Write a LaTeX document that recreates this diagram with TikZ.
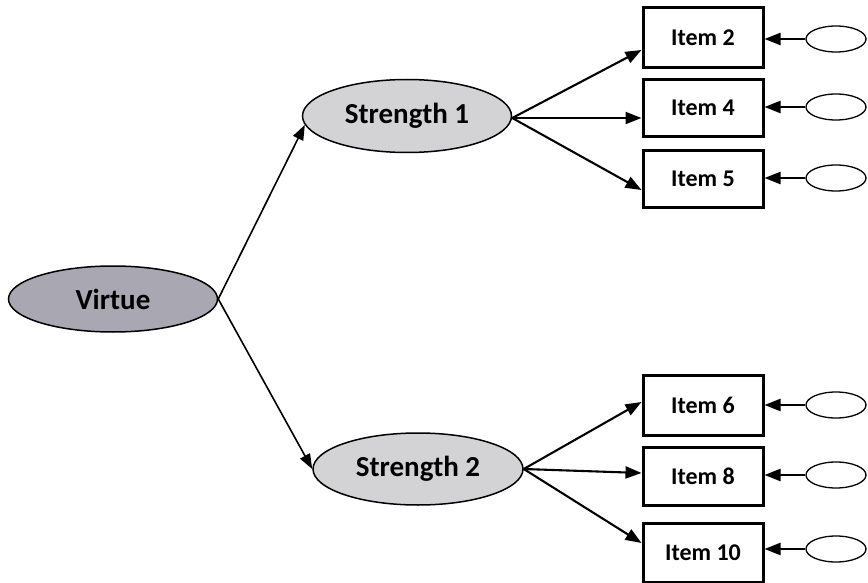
\documentclass[tikz,border=0pt]{standalone}
\usepackage{fontspec}
\setmainfont{Carlito}
\usetikzlibrary{arrows.meta,shapes.geometric}
\definecolor{darkfill}{HTML}{A9A7B1}
\definecolor{lightfill}{HTML}{D3D3D6}
\begin{document}
\begin{tikzpicture}[x=1pt,y=-1pt,
  bigell/.style={ellipse,draw,line width=1.5pt,minimum width=#1,inner sep=0pt},
  itembox/.style={rectangle,draw,line width=3pt,minimum width=120pt,inner sep=0pt,font=\fontsize{24}{26}\selectfont\bfseries},
  errell/.style={ellipse,draw,line width=1.3pt,minimum width=60pt,minimum height=26pt,inner sep=0pt},
  conn/.style={line width=2.1pt,-{Triangle[length=16pt,width=12pt]}},
  thin/.style={line width=1.6pt,-{Triangle[length=15pt,width=11pt]}}]
\useasboundingbox (0,0) rectangle (868,583);
\fill[white] (0,0) rectangle (868,583);
\node[bigell=209pt,minimum height=66pt,fill=darkfill,font=\fontsize{29}{30}\selectfont\bfseries] (v) at (113,299) {Virtue};
\node[bigell=209pt,minimum height=73pt,fill=lightfill,font=\fontsize{29}{30}\selectfont\bfseries] (s1) at (407,116) {Strength 1};
\node[bigell=210pt,minimum height=72pt,fill=lightfill,font=\fontsize{29}{30}\selectfont\bfseries] (s2) at (418,469) {Strength 2};
\node[itembox,minimum height=60pt] (i2) at (703,38) {Item 2};
\node[itembox,minimum height=57pt] (i4) at (703,108) {Item 4};
\node[itembox,minimum height=57pt] (i5) at (703,179) {Item 5};
\node[itembox,minimum height=60pt] (i6) at (703,405) {Item 6};
\node[itembox,minimum height=58pt] (i8) at (703,476) {Item 8};
\node[itembox,minimum height=59pt] (i10) at (703,553) {Item 10};
\node[errell] (e2) at (836,39) {};
\node[errell] (e4) at (836,107) {};
\node[errell] (e5) at (836,178) {};
\node[errell] (e6) at (836,405) {};
\node[errell] (e8) at (836,475) {};
\node[errell] (e10) at (836,549) {};
\draw[thin] (v.east) -- (s1.185);
\draw[thin] (v.east) -- (s2.west);
\draw[conn] ([yshift=-2pt]s1.east) -- ([yshift=-12pt]i2.west);
\draw[conn] ([yshift=-2pt]s1.east) -- ([yshift=-10pt]i4.west);
\draw[conn] ([yshift=-2pt]s1.east) -- ([yshift=-11pt]i5.west);
\draw[conn] (s2.east) -- ([yshift=3pt]i6.west);
\draw[conn] (s2.east) -- ([yshift=3pt]i8.west);
\draw[conn] (s2.east) -- ([yshift=10pt]i10.west);
\foreach \a/\b in {e2/i2,e4/i4,e5/i5,e6/i6,e8/i8,e10/i10}
  \draw[conn] (\a.west) -- (\a.west -| \b.east);
\end{tikzpicture}
\end{document}
